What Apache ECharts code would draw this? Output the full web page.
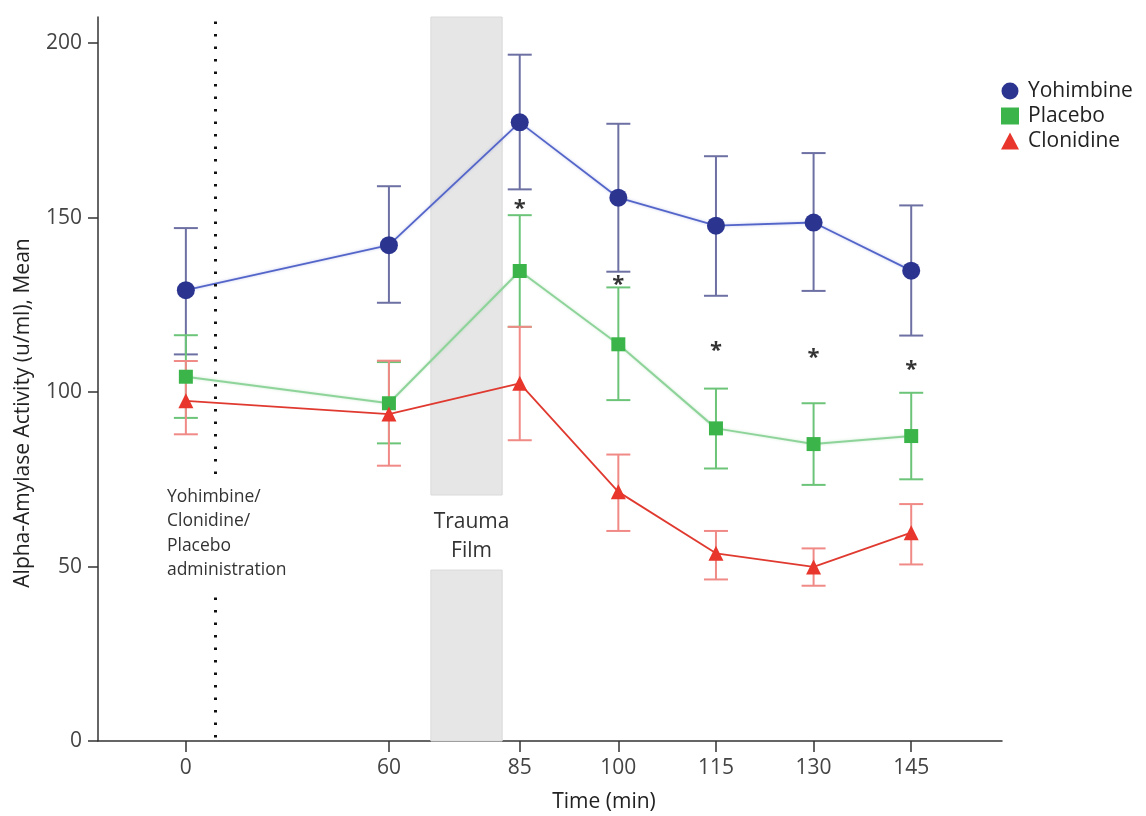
<!DOCTYPE html>
<html>
<head>
<meta charset="utf-8">
<script src="https://cdn.jsdelivr.net/npm/echarts@6/dist/echarts.min.js"></script>
<style>html,body{margin:0;padding:0;background:#fff;}#c{width:1146px;height:816px;}</style>
</head>
<body>
<div id="c"></div>
<script>
// Time points (labels) and their place on the chart's compressed time scale (15-min steps after 85 min)
const timeLabels = ['0', '60', '85', '100', '115', '130', '145'];
const timeScale = [0, 2.08, 3.42, 4.43, 5.43, 6.43, 7.43];
const yTicks = [0, 50, 100, 150, 200];

const yohMean = [129.2, 142.1, 177.3, 155.7, 147.7, 148.6, 134.8];
const yohLow  = [110.8, 125.6, 158.1, 134.5, 127.6, 129.0, 116.2];
const yohHigh = [147.0, 159.0, 196.7, 176.9, 167.6, 168.5, 153.5];

const plaMean = [104.4, 96.8, 134.7, 113.7, 89.6, 85.1, 87.4];
const plaLow  = [92.6, 85.3, 118.7, 97.7, 78.1, 73.4, 75.0];
const plaHigh = [116.3, 108.6, 150.7, 130.0, 101.0, 96.8, 99.8];

const cloMean = [97.5, 93.7, 102.5, 71.4, 53.8, 49.9, 59.7];
const cloLow  = [87.9, 78.9, 86.2, 60.2, 46.3, 44.5, 50.6];
const cloHigh = [108.9, 109.0, 118.7, 82.1, 60.2, 55.2, 67.9];

// significance asterisks: time index and height
const starIdx = [2, 3, 4, 5, 6];
const starLevel = [153.9, 132.1, 113.2, 111.2, 107.7];

// annotations (in axis units)
const adminTime = 0.3;                  // drug administration marker
const filmStart = 2.51, filmEnd = 3.24; // trauma film period

const FONT = '"Open Sans", "DejaVu Sans", sans-serif';

function pts(vals) { return timeScale.map((x, i) => [x, vals[i]]); }
function errData(lo, hi) { return timeScale.map((x, i) => [x, lo[i], hi[i]]); }
function errRender(color) {
  return function (params, api) {
    const x = api.value(0);
    const lo = api.coord([x, api.value(1)]);
    const hi = api.coord([x, api.value(2)]);
    const hw = 12;
    const st = { stroke: color, lineWidth: 2 };
    return {
      type: 'group',
      children: [
        { type: 'line', shape: { x1: lo[0], y1: lo[1], x2: hi[0], y2: hi[1] }, style: st },
        { type: 'line', shape: { x1: lo[0] - hw, y1: lo[1], x2: lo[0] + hw, y2: lo[1] }, style: st },
        { type: 'line', shape: { x1: hi[0] - hw, y1: hi[1], x2: hi[0] + hw, y2: hi[1] }, style: st }
      ]
    };
  };
}
function labelFor(v) {
  let best = 0;
  for (let i = 0; i < timeScale.length; i++) if (Math.abs(timeScale[i] - v) < Math.abs(timeScale[best] - v)) best = i;
  return timeLabels[best];
}

const chart = echarts.init(document.getElementById('c'), null, { renderer: 'canvas' });
const axisColor = '#333';
const option = {
  animation: false,
  backgroundColor: '#fff',
  textStyle: { fontFamily: FONT },
  grid: { left: 98, right: 144, top: 17, bottom: 75, outerBoundsMode: 'none', containLabel: false },
  legend: {
    orient: 'vertical', left: 996, top: 75, itemGap: 3, itemWidth: 18, itemHeight: 17,
    textStyle: { fontSize: 21, lineHeight: 22, color: '#222', fontFamily: FONT, padding: [0, 0, 0, 4] },
    data: [
      { name: 'Yohimbine', icon: 'circle' },
      { name: 'Placebo', icon: 'rect' },
      { name: 'Clonidine', icon: 'triangle' }
    ]
  },
  xAxis: {
    type: 'value', min: -0.9, max: 8.36,
    name: 'Time (min)', nameLocation: 'middle', nameGap: 51,
    nameTextStyle: { fontSize: 21, color: '#222', padding: [0, 0, 0, 108] },
    splitLine: { show: false },
    axisLine: { onZero: false, lineStyle: { color: axisColor, width: 1.5 } },
    axisTick: { customValues: timeScale, length: 11, lineStyle: { color: axisColor, width: 1.5 } },
    axisLabel: { customValues: timeScale, formatter: labelFor, fontSize: 21, color: '#444', margin: 17 }
  },
  yAxis: {
    type: 'value', min: 0, max: 207.5,
    name: 'Alpha-Amylase Activity (u/ml), Mean', nameLocation: 'middle', nameGap: 64,
    nameTextStyle: { fontSize: 21, color: '#222', padding: [0, 68, 0, 0] },
    splitLine: { show: false },
    axisLine: { show: true, onZero: false, lineStyle: { color: axisColor, width: 1.5 } },
    axisTick: { show: true, customValues: yTicks, length: 10, lineStyle: { color: axisColor, width: 1.5 } },
    axisLabel: { customValues: yTicks, fontSize: 21, color: '#444', margin: 16 }
  },
  series: [
    {
      name: 'annotations', type: 'line', data: [], z: 1, silent: true,
      markArea: {
        silent: true,
        data: [
          [{ xAxis: filmStart, yAxis: 0, itemStyle: { color: '#e6e6e6', borderColor: '#dadada', borderWidth: 1 } }, { xAxis: filmEnd, yAxis: 49 }],
          [{ xAxis: filmStart, yAxis: 70.5, itemStyle: { color: '#e6e6e6', borderColor: '#dadada', borderWidth: 1 } }, { xAxis: filmEnd, yAxis: 207.5 }],
          [{ xAxis: filmStart, yAxis: 70.5, itemStyle: { color: 'rgba(0,0,0,0)' },
             label: { show: true, position: 'inside', formatter: 'Trauma\nFilm', fontSize: 21, lineHeight: 29, color: '#333', fontFamily: FONT, offset: [5, 4] } },
           { xAxis: filmEnd, yAxis: 49 }],
          [{ xAxis: -0.245, yAxis: 75.5, itemStyle: { color: 'rgba(0,0,0,0)' },
             label: { show: true, position: 'insideLeft', formatter: 'Yohimbine/\nClonidine/\nPlacebo\nadministration', fontSize: 17.5, lineHeight: 24.5, color: '#333', fontFamily: FONT, offset: [0, 2] } },
           { xAxis: 1.2, yAxis: 44.5 }]
        ]
      },
      markLine: {
        silent: true, symbol: 'none',
        lineStyle: { color: '#111', width: 3, type: [2.5, 10], cap: 'butt' },
        label: { show: false },
        data: [
          [{ xAxis: adminTime, yAxis: 1 }, { xAxis: adminTime, yAxis: 43.6 }],
          [{ xAxis: adminTime, yAxis: 76.5 }, { xAxis: adminTime, yAxis: 207 }]
        ]
      }
    },
    { name: 'errYoh', type: 'custom', renderItem: errRender('#6d70a3'), data: errData(yohLow, yohHigh), z: 2, encode: { x: 0, y: [1, 2] } },
    { name: 'errPla', type: 'custom', renderItem: errRender('#6cc479'), data: errData(plaLow, plaHigh), z: 2, encode: { x: 0, y: [1, 2] } },
    { name: 'errClo', type: 'custom', renderItem: errRender('#f08a86'), data: errData(cloLow, cloHigh), z: 2, encode: { x: 0, y: [1, 2] } },
    {
      name: 'Yohimbine', type: 'line', data: pts(yohMean), z: 4,
      symbol: 'circle', symbolSize: 18, showAllSymbol: true,
      itemStyle: { color: '#2b3590' },
      lineStyle: { color: '#5465c9', width: 1.8, shadowColor: 'rgba(84,101,201,0.35)', shadowBlur: 3 }
    },
    {
      name: 'Placebo', type: 'line', data: pts(plaMean), z: 3,
      symbol: 'rect', symbolSize: 14, showAllSymbol: true,
      itemStyle: { color: '#3bb54a' },
      lineStyle: { color: '#8ed49a', width: 2, shadowColor: 'rgba(120,200,130,0.35)', shadowBlur: 3 }
    },
    {
      name: 'Clonidine', type: 'line', data: pts(cloMean), z: 3,
      symbol: 'triangle', symbolSize: 15, showAllSymbol: true,
      itemStyle: { color: '#e8362c' },
      lineStyle: { color: '#e03a30', width: 1.8 }
    },
    {
      name: 'stars', type: 'scatter', z: 5, silent: true,
      data: starIdx.map((k, i) => [timeScale[k], starLevel[i]]),
      symbolSize: 2, itemStyle: { color: 'rgba(0,0,0,0)' },
      label: { show: true, position: 'inside', formatter: '*', fontSize: 22, fontWeight: 'bold', color: '#000', offset: [0, 5] }
    }
  ]
};
chart.setOption(option);
</script>
</body>
</html>
